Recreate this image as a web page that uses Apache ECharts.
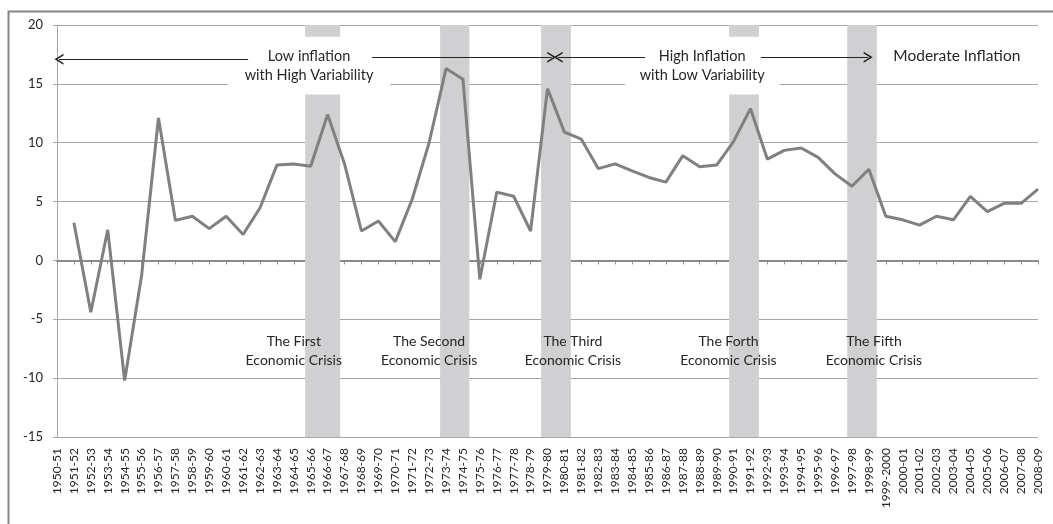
<!DOCTYPE html>
<html>
<head>
<meta charset="utf-8">
<script src="https://cdn.jsdelivr.net/npm/echarts@6/dist/echarts.min.js"></script>
<style>
html,body{margin:0;padding:0;background:#fff;}
#chart{width:1053px;height:524px;}
</style>
</head>
<body>
<div id="chart"></div>
<script>
// ---- data ----
var categories = ['1950-51','1951-52','1952-53','1953-54','1954-55','1955-56','1956-57','1957-58','1958-59','1959-60',
  '1960-61','1961-62','1962-63','1963-64','1964-65','1965-66','1966-67','1967-68','1968-69','1969-70',
  '1970-71','1971-72','1972-73','1973-74','1974-75','1975-76','1976-77','1977-78','1978-79','1979-80',
  '1980-81','1981-82','1982-83','1983-84','1984-85','1985-86','1986-87','1987-88','1988-89','1989-90',
  '1990-91','1991-92','1992-93','1993-94','1994-95','1995-96','1996-97','1997-98','1998-99','1999-2000',
  '2000-01','2001-02','2002-03','2003-04','2004-05','2005-06','2006-07','2007-08','2008-09'];
var inflation = [null, 3.2, -4.4, 2.6, -10.2, -1.3, 12.1, 3.4, 3.75, 2.7,
  3.75, 2.2, 4.45, 8.1, 8.2, 8.0, 12.4, 8.2, 2.5, 3.35,
  1.6, 5.2, 10.0, 16.3, 15.4, -1.6, 5.8, 5.45, 2.5, 14.6,
  10.9, 10.3, 7.8, 8.2, 7.6, 7.05, 6.65, 8.9, 7.95, 8.1,
  10.1, 12.9, 8.6, 9.35, 9.55, 8.75, 7.35, 6.3, 7.75, 3.75,
  3.45, 3.0, 3.75, 3.45, 5.45, 4.15, 4.85, 4.85, 6.05];
var yTicks = {min: -15, max: 20, step: 5};
// crisis shading, in category-index units
var crisisBands = [[14.67, 16.74], [22.65, 24.38], [28.62, 30.38], [39.74, 41.5], [46.72, 48.47]];
var crisisNames = ['The First\nEconomic Crisis', 'The Second\nEconomic Crisis', 'The Third\nEconomic Crisis',
  'The Forth\nEconomic Crisis', 'The Fifth\nEconomic Crisis'];
var crisisLabelAt = [[14.0, -7.7], [22.0, -7.7], [30.5, -7.7], [39.7, -7.7], [48.3, -7.7]];
// regime annotations
var regimeBoxes = [
  {text: 'Low inflation\nwith High Variability', x: [10.11, 19.69], y: [14.1, 19.0]},
  {text: 'High Inflation\nwith Low Variability', x: [33.59, 42.7], y: [14.1, 19.0]}
];
var regimeArrows = [
  [[11.3, 17.1], [0.12, 17.1]],
  [[18.63, 17.27], [29.25, 17.27]],
  [[34.77, 17.27], [29.63, 17.27]],
  [[41.61, 17.27], [47.96, 17.27]]
];
var moderateLabel = {text: 'Moderate Inflation', at: [53.2, 17.4]};

// ---- chart ----
var FONT = 'Lato';
var TXT = '#262626';
var chevron = 'path://M0,10 L5,0 L10,10 L8.4,10 L5,3.2 L1.6,10 Z';
var chart = echarts.init(document.getElementById('chart'), null, {renderer: 'canvas'});

var option = {
  backgroundColor: '#fff',
  animation: false,
  textStyle: {fontFamily: FONT},
  graphic: [{
    type: 'rect', left: 6, top: 9, z: 100,
    shape: {width: 1100, height: 600},
    style: {fill: 'none', stroke: '#858585', lineWidth: 2}
  }],
  grid: {left: 57, right: 15, top: 25, bottom: 87, containLabel: false},
  xAxis: [{
    type: 'category', data: categories, boundaryGap: false, position: 'bottom',
    axisLine: {show: false, onZero: false}, axisTick: {show: false},
    axisLabel: {interval: 0, rotate: 90, fontSize: 12, color: TXT, margin: 11, fontFamily: FONT}
  }, {
    type: 'category', data: categories, boundaryGap: false, position: 'bottom',
    axisLine: {show: true, onZero: true, lineStyle: {color: '#8c8c8c', width: 2}},
    axisTick: {show: true, interval: 0, length: 4, lineStyle: {color: '#8c8c8c', width: 1}},
    axisLabel: {show: false}
  }, {
    type: 'value', min: 0, max: categories.length - 1, show: false
  }],
  yAxis: {
    type: 'value', min: yTicks.min, max: yTicks.max, interval: yTicks.step,
    axisLine: {show: true, lineStyle: {color: '#a6a6a6', width: 1}},
    axisTick: {show: true, length: 4, lineStyle: {color: '#a6a6a6'}},
    axisLabel: {fontSize: 13, color: TXT, margin: 14, fontFamily: FONT},
    splitLine: {show: true, lineStyle: {color: '#a6a6a6', width: 1}}
  },
  series: [{
    name: 'bands', type: 'line', xAxisIndex: 2, data: [], z: 1,
    markArea: {
      silent: true,
      itemStyle: {color: '#d0d0d2'},
      data: crisisBands.map(function (b) { return [{xAxis: b[0], yAxis: yTicks.max}, {xAxis: b[1], yAxis: yTicks.min}]; })
    }
  }, {
    name: 'boxes', type: 'line', xAxisIndex: 2, data: [], z: 2,
    markArea: {
      silent: true,
      itemStyle: {color: '#fff'},
      label: {show: true, position: 'inside', color: TXT, fontSize: 14.5, lineHeight: 19, fontFamily: FONT},
      data: regimeBoxes.map(function (b) { return [{xAxis: b.x[0], yAxis: b.y[1], name: b.text}, {xAxis: b.x[1], yAxis: b.y[0]}]; })
    },
    markLine: {
      silent: true, symbol: ['none', chevron], symbolSize: [11, 9],
      lineStyle: {color: '#222', width: 1, type: 'solid'},
      label: {show: false},
      data: regimeArrows.map(function (a) { return [{coord: a[0]}, {coord: a[1]}]; })
    }
  }, {
    name: 'labels', type: 'scatter', xAxisIndex: 2, symbolSize: 0, z: 3, silent: true,
    itemStyle: {opacity: 1},
    data: crisisLabelAt.map(function (p, i) { return {value: p, name: crisisNames[i]}; })
      .concat([{value: moderateLabel.at, name: moderateLabel.text, label: {fontSize: 15.5}}]),
    label: {show: true, position: 'inside', formatter: '{b}', color: TXT, fontSize: 14, lineHeight: 19, fontFamily: FONT, opacity: 1}
  }, {
    name: 'Inflation', type: 'line', xAxisIndex: 0, data: inflation, z: 5,
    showSymbol: false, symbol: 'none', connectNulls: false,
    lineStyle: {color: '#808080', width: 3}
  }]
};
chart.setOption(option);
</script>
</body>
</html>
